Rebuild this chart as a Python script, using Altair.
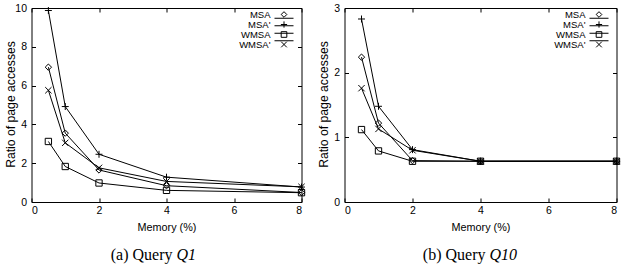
import altair as alt
import pandas as pd

# ---------------- data ----------------
memory = [0.5, 1, 2, 4, 8]
series = ["MSA", "MSA'", "WMSA", "WMSA'"]

q1_msa = [6.95, 3.55, 1.65, 0.84, 0.49]
q1_msap = [9.87, 4.92, 2.46, 1.28, 0.77]
q1_wmsa = [3.12, 1.83, 0.98, 0.60, 0.48]
q1_wmsap = [5.76, 3.05, 1.76, 1.06, 0.78]

q10_msa = [2.24, 1.22, 0.64, 0.63, 0.63]
q10_msap = [2.83, 1.48, 0.81, 0.63, 0.63]
q10_wmsa = [1.12, 0.79, 0.63, 0.63, 0.63]
q10_wmsap = [1.76, 1.13, 0.80, 0.63, 0.63]

x_ticks = [0, 2, 4, 6, 8]
q1_y_ticks = [0, 2, 4, 6, 8, 10]
q10_y_ticks = [0, 1, 2, 3]

caption_prefix = ["(a) Query", "(b) Query"]
caption_italic = ["Q1", "Q10"]

x_title = "Memory (%)"
y_title = "Ratio of page accesses"

# marker shapes (unit square -1..1)
marker_paths = [
    "M0,-1L1,0L0,1L-1,0Z",
    "M-1.1,0H1.1M0,-1.1V1.1",
    "M-1,-1H1V1H-1Z",
    "M-1,-1L1,1M-1,1L1,-1",
]

SANS = "Liberation Sans"
SERIF = "Liberation Serif"


def long_df(vals_list):
    rows = []
    for s, vals in zip(series, vals_list):
        for m, v in zip(memory, vals):
            rows.append({"mem": m, "val": v, "series": s})
    return pd.DataFrame(rows)


def panel(df, ymax, yticks, width, height, idx):
    xs = alt.Scale(domain=[0, 8], nice=False, zero=False)
    ys = alt.Scale(domain=[0, ymax], nice=False)
    shape_scale = alt.Scale(domain=series, range=marker_paths)
    base = alt.Chart(df)

    lines = base.mark_line(color="black", strokeWidth=1).encode(
        x=alt.X("mem:Q", scale=xs, axis=alt.Axis(
            orient="bottom", values=x_ticks, title=x_title, offset=-4, tickSize=4,
            labelPadding=3, titleX=width / 2, titleY=29, titleFontSize=10.8,
            titleBaseline="middle", titleAlign="center")),
        y=alt.Y("val:Q", scale=ys, axis=alt.Axis(
            orient="left", values=yticks, title=y_title, offset=-4, tickSize=4,
            labelPadding=5, titleX=-25, titleY=height / 2 - 1,
            titleFontSize=12.2,
            titleBaseline="middle", titleAlign="center", titleAngle=270)),
        detail="series:N",
    )

    mirror = base.mark_line(opacity=0).encode(
        x=alt.X("mem:Q", scale=xs, axis=alt.Axis(
            orient="top", values=x_ticks, title=None, labels=False,
            offset=-4, tickSize=4)),
        y=alt.Y("val:Q", scale=ys, axis=alt.Axis(
            orient="right", values=yticks, title=None, labels=False,
            offset=-4, tickSize=4)),
        detail="series:N",
    )

    points = base.mark_point(filled=False, color="black", strokeWidth=1,
                             size=40, opacity=1).encode(
        x=alt.X("mem:Q", scale=xs, axis=None),
        y=alt.Y("val:Q", scale=ys, axis=None),
        shape=alt.Shape("series:N", scale=shape_scale, legend=None),
    )

    # key (legend) in the top-right corner, rows placed by a point scale
    key_df = pd.DataFrame({"series": series})
    key_y = alt.Y("series:N", axis=None,
                  scale=alt.Scale(domain=series, range=[6.5, 36.5], padding=0))
    key_text = alt.Chart(key_df).mark_text(
        font=SANS, fontSize=9.5, align="right", baseline="middle",
        color="black").encode(text="series:N", x=alt.value(width - 31), y=key_y)
    key_line = alt.Chart(key_df).mark_rule(
        color="black", strokeWidth=1).encode(
        x=alt.value(width - 27), x2=alt.value(width - 8), y=key_y)
    key_mark = alt.Chart(key_df).mark_point(
        filled=False, color="black", strokeWidth=1, size=32, opacity=1).encode(
        x=alt.value(width - 17.5), y=key_y,
        shape=alt.Shape("series:N", scale=shape_scale, legend=None))

    cap_df = pd.DataFrame({"pre": [caption_prefix[idx]],
                           "ita": [caption_italic[idx]]})
    cap1 = alt.Chart(cap_df).mark_text(
        font=SERIF, fontSize=16, align="right", baseline="alphabetic",
        color="black").encode(text="pre:N", x=alt.value(141), y=alt.value(252))
    cap2 = alt.Chart(cap_df).mark_text(
        font=SERIF, fontSize=16, fontStyle="italic", align="left",
        baseline="alphabetic", color="black").encode(
        text="ita:N", x=alt.value(145), y=alt.value(252))

    return alt.layer(lines, mirror, points, key_line, key_mark, key_text,
                     cap1, cap2).resolve_scale(y="independent").resolve_axis(
        x="independent", y="independent"
    ).properties(width=width, height=height)


left = panel(long_df([q1_msa, q1_msap, q1_wmsa, q1_wmsap]), 10, q1_y_ticks,
             270, 194, 0)
right = panel(long_df([q10_msa, q10_msap, q10_wmsa, q10_wmsap]), 3,
              q10_y_ticks, 272, 194, 1)

chart = alt.hconcat(left, right, spacing=9).properties(
    padding={"left": 3.5, "top": 2, "right": 0, "bottom": 0}
).configure_view(stroke="black", strokeWidth=1).configure_axis(
    labelFont=SANS, labelFontSize=10.5, labelColor="black",
    titleFont=SANS, titleFontSize=11, titleFontWeight="normal",
    titleColor="black", grid=False, domain=False, tickColor="black",
    tickWidth=1,
)

chart.save("out.html", embed_options={"renderer": "svg", "actions": False})
